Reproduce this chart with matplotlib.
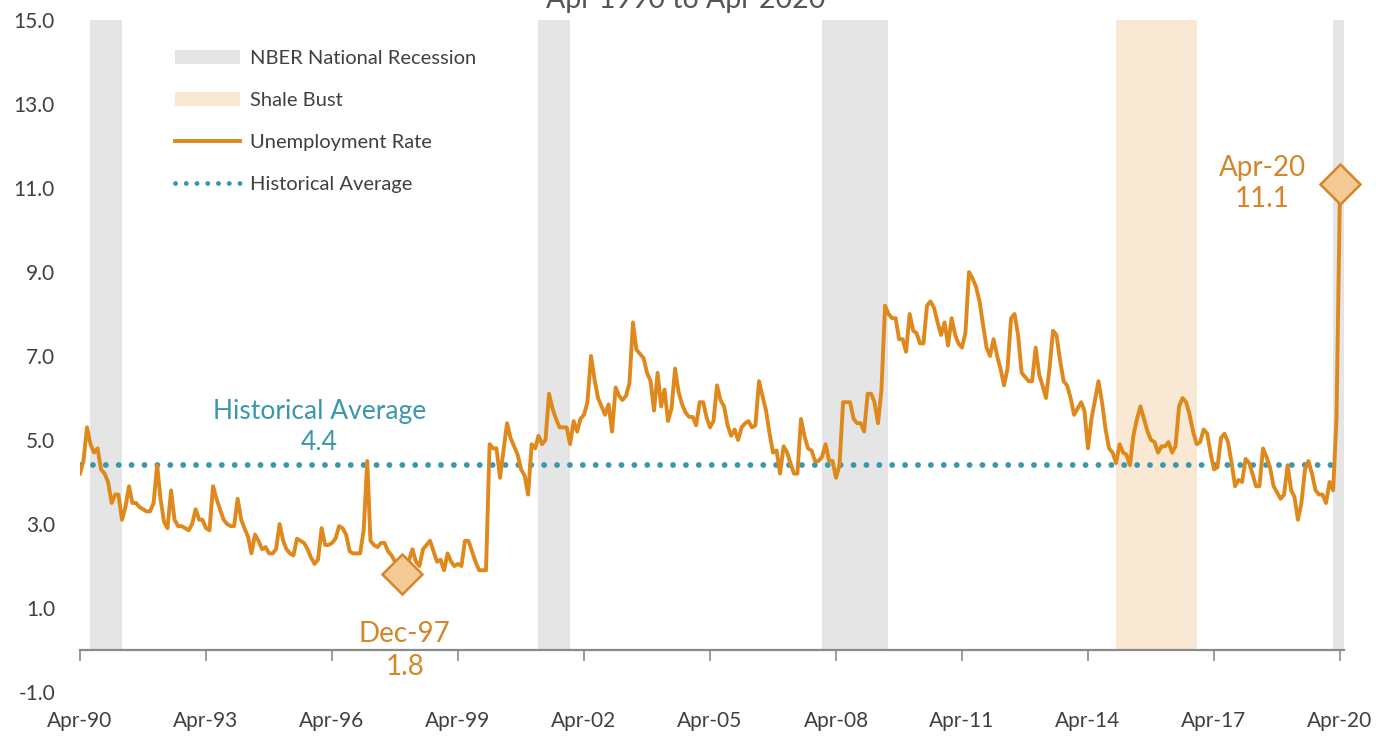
import matplotlib
matplotlib.use('Agg')
import matplotlib.pyplot as plt
import matplotlib.dates as mdates
from matplotlib.patches import Patch
from matplotlib.lines import Line2D
import pandas as pd

plt.rcParams['font.family'] = ['Lato', 'DejaVu Sans']

# monthly unemployment rate, Apr-1990 .. Apr-2020 (not seasonally adjusted)
rate = [
    4.2, 4.5, 5.3, 4.9, 4.7, 4.8, 4.3, 4.2, 4.0, 3.5, 3.7, 3.7,
    3.1, 3.4, 3.9, 3.5, 3.5, 3.4, 3.35, 3.3, 3.3, 3.5, 4.4, 3.6,
    3.05, 2.9, 3.8, 3.1, 2.95, 2.95, 2.9, 2.85, 3.0, 3.35, 3.1, 3.1,
    2.9, 2.85, 3.9, 3.6, 3.35, 3.1, 3.0, 2.95, 2.95, 3.6, 3.1, 2.9,
    2.7, 2.3, 2.75, 2.6, 2.4, 2.45, 2.3, 2.3, 2.4, 3.0, 2.6, 2.4,
    2.3, 2.25, 2.65, 2.6, 2.55, 2.4, 2.2, 2.05, 2.15, 2.9, 2.5, 2.5,
    2.55, 2.65, 2.95, 2.9, 2.75, 2.35, 2.3, 2.3, 2.3, 2.85, 4.5, 2.6,
    2.5, 2.45, 2.55, 2.55, 2.35, 2.25, 2.1, 1.95, 1.8, 2.0, 2.15, 2.4,
    2.1, 2.0, 2.4, 2.5, 2.6, 2.35, 2.1, 2.15, 1.9, 2.3, 2.1, 2.0,
    2.05, 2.0, 2.6, 2.6, 2.35, 2.1, 1.9, 1.9, 1.9, 4.9, 4.8, 4.8,
    4.1, 4.75, 5.4, 5.05, 4.85, 4.65, 4.3, 4.15, 3.7, 4.9, 4.8, 5.1,
    4.9, 5.0, 6.1, 5.75, 5.5, 5.3, 5.3, 5.3, 4.9, 5.45, 5.2, 5.5,
    5.6, 5.9, 7.0, 6.45, 6.0, 5.8, 5.6, 5.85, 5.2, 6.25, 6.05, 5.95,
    6.05, 6.35, 7.8, 7.15, 7.05, 6.95, 6.6, 6.4, 5.7, 6.6, 5.8, 6.2,
    5.45, 5.75, 6.7, 6.15, 5.85, 5.65, 5.55, 5.55, 5.35, 5.9, 5.9, 5.55,
    5.3, 5.45, 6.3, 5.95, 5.8, 5.35, 5.1, 5.25, 5.0, 5.3, 5.4, 5.45,
    5.3, 5.35, 6.4, 6.05, 5.7, 5.15, 4.7, 4.75, 4.2, 4.85, 4.7, 4.45,
    4.2, 4.2, 5.5, 5.1, 4.8, 4.75, 4.5, 4.5, 4.6, 4.9, 4.5, 4.5,
    4.1, 4.4, 5.9, 5.9, 5.9, 5.5, 5.4, 5.4, 5.2, 6.1, 6.1, 5.9,
    5.4, 6.2, 8.2, 8.0, 7.9, 7.9, 7.4, 7.4, 7.1, 8.0, 7.6, 7.55,
    7.3, 7.3, 8.2, 8.3, 8.15, 7.8, 7.5, 7.8, 7.25, 7.9, 7.5, 7.3,
    7.2, 7.55, 9.0, 8.85, 8.65, 8.3, 7.75, 7.2, 7.0, 7.4, 7.0, 6.7,
    6.3, 6.7, 7.9, 8.0, 7.5, 6.6, 6.5, 6.4, 6.4, 7.2, 6.55, 6.3,
    6.0, 6.7, 7.6, 7.5, 6.9, 6.4, 6.3, 6.0, 5.6, 5.75, 5.9, 5.7,
    4.8, 5.5, 5.95, 6.4, 5.9, 5.25, 4.8, 4.7, 4.45, 4.9, 4.7, 4.65,
    4.4, 5.1, 5.5, 5.8, 5.5, 5.2, 5.0, 4.95, 4.7, 4.85, 4.85, 4.95,
    4.7, 4.85, 5.8, 6.0, 5.9, 5.6, 5.2, 4.9, 4.95, 5.25, 5.15, 4.7,
    4.3, 4.35, 5.05, 5.15, 4.95, 4.45, 3.9, 4.05, 4.0, 4.55, 4.45, 4.2,
    3.9, 3.9, 4.8, 4.6, 4.35, 3.9, 3.75, 3.6, 3.7, 4.4, 3.8, 3.65,
    3.1, 3.5, 4.3, 4.5, 4.2, 3.8, 3.7, 3.7, 3.5, 4.0, 3.8, 5.5,
    11.1,
]
dates = pd.date_range('1990-04-01', periods=len(rate), freq='MS')
hist_avg = 4.4

recessions = [('1990-07-01', '1991-04-01'), ('2001-03-01', '2001-12-01'),
              ('2007-12-01', '2009-07-01'), ('2020-02-01', '2020-05-01')]
shale_bust = ('2014-12-01', '2016-11-01')

ORANGE = '#df891c'
TEAL = '#3a97ad'
GREY_BAND = '#e5e5e5'
TAN_BAND = '#f9e8d4'
TXT = '#404040'

fig = plt.figure(figsize=(14, 7.39), dpi=100)
ax = fig.add_axes([80 / 1400, 1 - 692 / 739, 1263.5 / 1400, 672 / 739])

ymin, ymax = -1, 15
band_lo = (0 - ymin) / (ymax - ymin)
for a, b in recessions:
    ax.axvspan(pd.Timestamp(a), pd.Timestamp(b), ymin=band_lo, ymax=1,
               color=GREY_BAND, lw=0, zorder=0)
ax.axvspan(pd.Timestamp(shale_bust[0]), pd.Timestamp(shale_bust[1]),
           ymin=band_lo, ymax=1, color=TAN_BAND, lw=0, zorder=0)

dot_style = (0, (0.01, 2.2))
ax.hlines(hist_avg, dates[0], dates[-1], colors=TEAL, lw=4.2,
          linestyles=dot_style, capstyle='round', zorder=2)
ax.plot(dates, rate, color=ORANGE, lw=2.8, solid_joinstyle='round', zorder=3)

# low point and latest reading
s = pd.Series(rate, index=dates)
i_min = s.idxmin()
i_last = dates[-1]
for d in (i_min, i_last):
    ax.plot(d, s[d], marker='D', ms=20, mfc='#f5c994', mec='#d4862a',
            mew=1.8, clip_on=False, zorder=4)
ax.annotate(f"{i_min:%b-%y}\n{s[i_min]:.1f}", xy=(i_min, s[i_min]),
            xytext=(2, -55), textcoords='offset points', ha='center',
            va='center', color='#d4862a', fontsize=20, linespacing=1.32)
ax.annotate(f"{i_last:%b-%y}\n{s[i_last]:.1f}", xy=(i_last, s[i_last]),
            xytext=(-56, 0), textcoords='offset points', ha='center',
            va='center', color='#d4862a', fontsize=20, linespacing=1.25)
ax.annotate(f"Historical Average\n{hist_avg:.1f}",
            xy=(pd.Timestamp('1995-12-15'), hist_avg), xytext=(0, 27.5),
            textcoords='offset points', ha='center', va='center',
            color=TEAL, fontsize=19, linespacing=1.26)

ax.set_ylim(ymin, ymax)
ax.set_xlim(dates[0], pd.Timestamp('2020-05-01'))
ax.set_yticks(range(-1, 16, 2))
ax.set_yticklabels([f"{v:.1f}" for v in range(-1, 16, 2)])
ax.set_xticks(pd.date_range(dates[0], dates[-1], freq='36MS'))
ax.xaxis.set_major_formatter(mdates.DateFormatter('%b-%y'))

for side in ('top', 'right', 'left'):
    ax.spines[side].set_visible(False)
ax.spines['bottom'].set_position(('data', 0))
ax.spines['bottom'].set_color('#8a8a8a')
ax.spines['bottom'].set_linewidth(1.6)
ax.tick_params(axis='y', length=0, pad=18, labelsize=15, labelcolor=TXT)
ax.tick_params(axis='x', direction='out', length=8, width=1.2,
               color='#8a8a8a', pad=36, labelsize=15, labelcolor=TXT)

handles = [
    Patch(facecolor=GREY_BAND, edgecolor='none', label='NBER National Recession'),
    Patch(facecolor=TAN_BAND, edgecolor='none', label='Shale Bust'),
    Line2D([], [], color=ORANGE, lw=2.8, label='Unemployment Rate'),
    Line2D([], [], color=TEAL, lw=3.5, linestyle=(0, (0.01, 2.2)),
           dash_capstyle='round', label='Historical Average'),
]
fig.legend(handles=handles, loc='upper left',
           bbox_to_anchor=(175 / 1400, 1 - 50 / 739), frameon=False,
           fontsize=14.5, handlelength=3.25, handletextpad=0.45,
           labelspacing=1.24, borderpad=0, borderaxespad=0, labelcolor=TXT)

fig.text(686 / 1400, 1 - 8 / 739, 'Apr 1990 to Apr 2020', ha='center',
         va='baseline', fontsize=20.5, color='#555555')

fig.savefig('out.png', dpi=100)
